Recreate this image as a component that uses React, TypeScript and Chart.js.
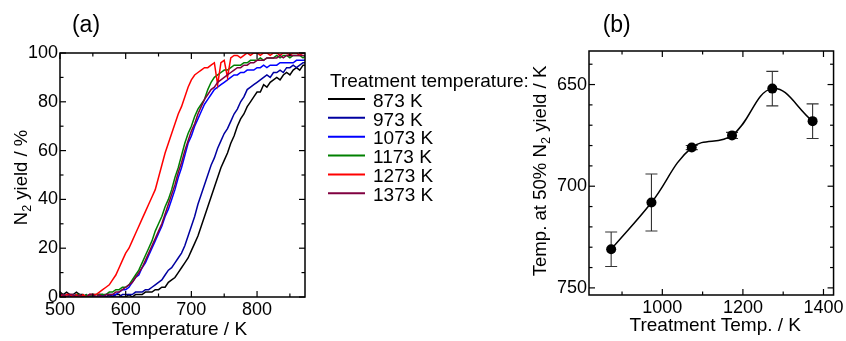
import { useEffect, useRef } from 'react';
import { Chart, registerables } from 'chart.js';

Chart.register(...registerables);

const FONT = "'Liberation Sans', Arial, Helvetica, sans-serif";

// ---- Panel (a): N2 yield vs. temperature ----
const temps = [
  500, 505, 510, 515, 520, 525, 530, 535, 540, 545, 550, 555, 560, 565, 570, 575, 580, 585, 590, 595,
  600, 605, 610, 615, 620, 625, 630, 635, 640, 645, 650, 655, 660, 665, 670, 675, 680, 685, 690, 695,
  700, 705, 710, 715, 720, 725, 730, 735, 740, 745, 750, 755, 760, 765, 770, 775, 780, 785, 790, 795,
  800, 805, 810, 815, 820, 825, 830, 835, 840, 845, 850, 855, 860, 865, 870, 875,
];

const yield873 = [
  2, 1, 2, 1, 1, 2, 1, 1, 0, 1, 1, 0, 1, 1, 0, 1, 0, 1, 1, 0,
  0, 1, 0, 1, 1, 1, 2, 2, 2, 3, 3, 4, 4, 6, 7, 8, 10, 12, 14, 16,
  19, 22, 25, 29, 33, 37, 41, 45, 49, 53, 56, 59, 63, 66, 70, 73, 75, 78, 80, 82,
  84, 84, 87, 86, 88, 89, 90, 89, 91, 92, 91, 93, 94, 93, 95, 95,
];
const yield973 = [
  1, 0, 1, 1, 0, 1, 0, 0, 1, 0, 1, 0, 0, 1, 0, 0, 1, 0, 0, 1,
  1, 1, 1, 2, 2, 2, 3, 3, 4, 5, 6, 7, 9, 11, 12, 14, 16, 18, 21, 25,
  29, 33, 38, 42, 46, 50, 54, 57, 61, 64, 67, 69, 72, 75, 77, 80, 82, 85, 86, 87,
  88, 89, 90, 91, 90, 92, 92, 93, 92, 94, 94, 95, 94, 95, 96, 96,
];
const yield1073 = [
  0, 1, 0, 0, 1, 0, 1, 0, 0, 1, 0, 0, 1, 0, 1, 1, 1, 1, 2, 3,
  3, 4, 6, 8, 9, 12, 14, 17, 20, 23, 26, 29, 33, 36, 40, 44, 49, 53, 58, 63,
  66, 70, 73, 76, 79, 81, 83, 85, 86, 87, 88, 89, 90, 91, 91, 92, 92, 93, 93, 93,
  94, 94, 95, 94, 95, 95, 95, 96, 96, 96, 96, 96, 97, 97, 97, 97,
];
const yield1173 = [
  1, 1, 0, 1, 0, 1, 1, 0, 1, 0, 1, 1, 1, 1, 1, 2, 2, 3, 3, 4,
  4, 5, 7, 9, 11, 14, 17, 20, 23, 27, 30, 33, 37, 40, 44, 49, 53, 58, 63, 67,
  70, 74, 77, 79, 81, 85, 88, 90, 91, 92, 93, 93, 94, 95, 95, 95, 96, 96, 97, 97,
  97, 98, 97, 98, 98, 98, 99, 98, 99, 99, 98, 99, 99, 99, 98, 99,
];
const yield1273 = [
  1, 0, 1, 1, 0, 1, 0, 1, 0, 1, 1, 1, 2, 3, 4, 5, 7, 9, 12, 15,
  18, 20, 23, 26, 29, 32, 35, 38, 41, 44, 49, 54, 59, 63, 67, 71, 75, 78, 82, 86,
  89, 91, 92, 93, 94, 94, 95, 96, 87, 96, 97, 90, 98, 99, 99, 98, 99, 100, 99, 100,
  100, 99, 100, 100, 99, 100, 100, 99, 100, 100, 99, 100, 100, 99, 100, 100,
];
const yield1373 = [
  1, 1, 0, 1, 1, 0, 1, 0, 0, 1, 1, 0, 1, 0, 1, 1, 1, 2, 2, 3,
  4, 5, 6, 8, 10, 12, 15, 18, 21, 24, 27, 30, 34, 38, 42, 46, 51, 55, 60, 64,
  68, 71, 75, 78, 81, 83, 85, 86, 88, 89, 90, 91, 92, 93, 94, 94, 95, 95, 96, 96,
  97, 97, 97, 98, 98, 98, 98, 99, 98, 99, 99, 99, 99, 99, 99, 99,
];

const seriesLabels = ['873 K', '973 K', '1073 K', '1173 K', '1273 K', '1373 K'];
const seriesValues = [yield873, yield973, yield1073, yield1173, yield1273, yield1373];
const seriesColors = ['#000000', '#0000a0', '#0000ff', '#008000', '#ff0000', '#800040'];
const legendTitle = 'Treatment temperature:';

const xTicksA = [500, 600, 700, 800];
const yTicksA = [0, 20, 40, 60, 80, 100];

// ---- Panel (b): temperature at 50% N2 yield vs. treatment temperature ----
const treatTemps = [873, 973, 1073, 1173, 1273, 1373];
const t50 = [731, 708, 681, 675, 652, 668];
const t50Err = [8.5, 14, 1, 1.5, 8.5, 8.5];

const xTicksB = [1000, 1200, 1400];
const yTicksB = [650, 700, 750];

type Part = { t: string; sub?: boolean };

function drawRich(ctx: CanvasRenderingContext2D, parts: Part[], x: number, y: number, size: number, align: 'center' | 'left') {
  const fontFor = (p: Part) => `${p.sub ? size * 0.68 : size}px ${FONT}`;
  const widths = parts.map((p) => {
    ctx.font = fontFor(p);
    return ctx.measureText(p.t).width;
  });
  const total = widths.reduce((s, w) => s + w, 0);
  let cx = align === 'center' ? x - total / 2 : x;
  ctx.textAlign = 'left';
  ctx.textBaseline = 'alphabetic';
  parts.forEach((p, i) => {
    ctx.font = fontFor(p);
    ctx.fillText(p.t, cx, y + (p.sub ? size * 0.24 : 0));
    cx += widths[i];
  });
}

function minorValues(min: number, max: number, step: number, major: number) {
  const out: number[] = [];
  for (let v = Math.ceil(min / step) * step; v <= max + 1e-9; v += step) {
    if (Math.abs(v / major - Math.round(v / major)) > 1e-6) out.push(v);
  }
  return out;
}

// Box frame with inward major/minor ticks on all four sides
function framePlugin(xMinor: number, xMajor: number, yMinor: number, yMajor: number) {
  return {
    id: 'frame',
    afterDatasetsDraw(chart: any) {
      const { ctx, chartArea, scales } = chart;
      const { left, right, top, bottom } = chartArea;
      const xs = scales.x;
      const ys = scales.y;
      ctx.save();
      ctx.strokeStyle = '#000';
      ctx.lineWidth = 1.2;
      const seg = (x1: number, y1: number, x2: number, y2: number) => {
        ctx.beginPath();
        ctx.moveTo(x1, y1);
        ctx.lineTo(x2, y2);
        ctx.stroke();
      };
      const xTick = (v: number, len: number) => {
        const p = xs.getPixelForValue(v);
        seg(p, bottom, p, bottom - len);
        seg(p, top, p, top + len);
      };
      const yTick = (v: number, len: number) => {
        const p = ys.getPixelForValue(v);
        seg(left, p, left + len, p);
        seg(right, p, right - len, p);
      };
      xs.ticks.forEach((t: any) => xTick(t.value, 6));
      minorValues(xs.min, xs.max, xMinor, xMajor).forEach((v) => xTick(v, 3.5));
      ys.ticks.forEach((t: any) => yTick(t.value, 6));
      minorValues(ys.min, ys.max, yMinor, yMajor).forEach((v) => yTick(v, 3.5));
      ctx.lineWidth = 1.5;
      ctx.strokeRect(left, top, right - left, bottom - top);
      ctx.restore();
    },
  };
}

function linearAxis(min: number, max: number, ticks: number[], fit: (s: any) => void, extra: any = {}) {
  return {
    type: 'linear',
    min,
    max,
    ...extra,
    ticks: {
      padding: 2,
      maxRotation: 0,
      autoSkip: false,
      font: { size: 18 },
      color: '#000',
      callback: (v: any) => String(v),
    },
    afterBuildTicks: (s: any) => {
      s.ticks = ticks.map((value) => ({ value }));
    },
    grid: { display: false, drawTicks: false },
    border: { display: false },
    afterFit: fit,
  };
}

export default function App() {
  const refA = useRef<HTMLCanvasElement>(null);
  const refB = useRef<HTMLCanvasElement>(null);

  useEffect(() => {
    Chart.defaults.font.family = FONT;
    Chart.defaults.color = '#000';

    const textA = {
      id: 'textA',
      afterDraw(chart: any) {
        const { ctx, chartArea } = chart;
        ctx.save();
        ctx.fillStyle = '#000';
        drawRich(ctx, [{ t: '(a)' }], 86, 32, 23, 'center');
        drawRich(ctx, [{ t: 'Temperature / K' }], (chartArea.left + chartArea.right) / 2 - 3, 335, 19, 'center');
        ctx.save();
        ctx.translate(27, 177.5);
        ctx.rotate(-Math.PI / 2);
        drawRich(ctx, [{ t: 'N' }, { t: '2', sub: true }, { t: ' yield / %' }], 0, 0, 18.5, 'center');
        ctx.restore();
        // legend
        drawRich(ctx, [{ t: legendTitle }], 330, 87.3, 19, 'left');
        seriesLabels.forEach((lab, i) => {
          const ly = 99 + i * 18.85;
          ctx.strokeStyle = seriesColors[i];
          ctx.lineWidth = 2;
          ctx.beginPath();
          ctx.moveTo(328, ly);
          ctx.lineTo(365, ly);
          ctx.stroke();
          ctx.fillStyle = '#000';
          drawRich(ctx, [{ t: lab }], 373, ly + 7.7, 19, 'left');
        });
        ctx.restore();
      },
    };

    const chartA = new Chart(refA.current!, {
      type: 'line',
      data: {
        datasets: seriesLabels.map((label, i) => ({
          label,
          data: temps.map((x, j) => ({ x, y: seriesValues[i][j] })),
          borderColor: seriesColors[i],
          borderWidth: 1.5,
          pointRadius: 0,
          tension: 0,
          // later series are painted over earlier ones
          order: seriesLabels.length - 1 - i,
        })),
      },
      options: {
        responsive: false,
        animation: false,
        devicePixelRatio: 1,
        layout: { padding: { left: 0, top: 53, right: 225, bottom: 0 } },
        plugins: { legend: { display: false }, tooltip: { enabled: false } },
        scales: {
          x: linearAxis(500, 873, xTicksA, (s: any) => {
            s.height = 44;
          }),
          y: linearAxis(0, 100, yTicksA, (s: any) => {
            s.width = 60;
          }),
        },
      },
      plugins: [framePlugin(50, 100, 10, 20), textA],
    } as any);

    const errorBars = {
      id: 'errorBars',
      beforeDatasetsDraw(chart: any) {
        const { ctx, scales } = chart;
        ctx.save();
        ctx.strokeStyle = '#333';
        ctx.lineWidth = 1.1;
        treatTemps.forEach((t, i) => {
          const x = scales.x.getPixelForValue(t);
          const y1 = scales.y.getPixelForValue(t50[i] - t50Err[i]);
          const y2 = scales.y.getPixelForValue(t50[i] + t50Err[i]);
          ctx.beginPath();
          ctx.moveTo(x, y1);
          ctx.lineTo(x, y2);
          ctx.moveTo(x - 6, y1);
          ctx.lineTo(x + 6, y1);
          ctx.moveTo(x - 6, y2);
          ctx.lineTo(x + 6, y2);
          ctx.stroke();
        });
        ctx.restore();
      },
    };

    const textB = {
      id: 'textB',
      afterDraw(chart: any) {
        const { ctx, chartArea } = chart;
        ctx.save();
        ctx.fillStyle = '#000';
        drawRich(ctx, [{ t: '(b)' }], 86.7, 32, 23, 'center');
        drawRich(ctx, [{ t: 'Treatment Temp. / K' }], (chartArea.left + chartArea.right) / 2 + 4, 331, 19, 'center');
        ctx.save();
        ctx.translate(16, 171);
        ctx.rotate(-Math.PI / 2);
        drawRich(ctx, [{ t: 'Temp. at 50% N' }, { t: '2', sub: true }, { t: ' yield / K' }], 0, 0, 18.6, 'center');
        ctx.restore();
        ctx.restore();
      },
    };

    const chartB = new Chart(refB.current!, {
      type: 'line',
      data: {
        datasets: [
          {
            label: 'T50',
            data: treatTemps.map((x, i) => ({ x, y: t50[i] })),
            borderColor: '#000',
            borderWidth: 1.5,
            tension: 0.4,
            pointRadius: 5,
            pointHoverRadius: 5,
            pointBackgroundColor: '#000',
            pointBorderColor: '#000',
            pointBorderWidth: 0,
          },
        ],
      },
      options: {
        responsive: false,
        animation: false,
        devicePixelRatio: 1,
        layout: { padding: { left: 0, top: 51, right: 12, bottom: 0 } },
        plugins: { legend: { display: false }, tooltip: { enabled: false } },
        scales: {
          x: linearAxis(818, 1425, xTicksB, (s: any) => {
            s.height = 46;
          }),
          y: linearAxis(633.5, 753.5, yTicksB, (s: any) => {
            s.width = 59;
          }, { reverse: true }),
        },
      },
      plugins: [framePlugin(100, 200, 10, 50), errorBars, textB],
    } as any);

    return () => {
      chartA.destroy();
      chartB.destroy();
    };
  }, []);

  return (
    <div style={{ position: 'fixed', left: 0, top: 0, width: 846, height: 341, background: '#fff' }}>
      <canvas
        ref={refA}
        width={530}
        height={341}
        style={{ position: 'absolute', left: 0, top: 0, width: 530, height: 341 }}
      />
      <canvas
        ref={refB}
        width={316}
        height={341}
        style={{ position: 'absolute', left: 530, top: 0, width: 316, height: 341 }}
      />
    </div>
  );
}
